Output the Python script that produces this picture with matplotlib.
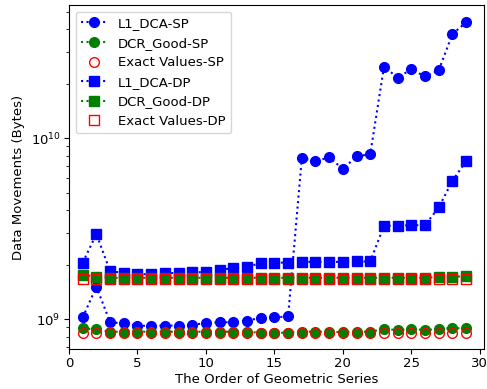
import numpy as np
import matplotlib
matplotlib.use('Agg')
import matplotlib.pyplot as plt

order = list(range(1, 30))

l1_sp = [1.02e9, 1.51e9, 0.96e9, 0.946e9, 0.918e9, 0.918e9, 0.92e9, 0.92e9, 0.93e9, 0.95e9,
         0.96e9, 0.96e9, 0.98e9, 1.016e9, 1.02e9, 1.035e9, 7.74e9, 7.46e9, 7.82e9, 6.76e9,
         7.92e9, 8.16e9, 2.48e10, 2.16e10, 2.40e10, 2.19e10, 2.37e10, 3.76e10, 4.36e10]
dcr_sp = [0.888e9, 0.877e9, 0.851e9, 0.851e9, 0.851e9, 0.851e9, 0.851e9, 0.851e9, 0.851e9, 0.851e9,
          0.851e9, 0.851e9, 0.851e9, 0.84e9, 0.84e9, 0.84e9, 0.851e9, 0.851e9, 0.851e9, 0.845e9,
          0.851e9, 0.851e9, 0.88e9, 0.87e9, 0.88e9, 0.87e9, 0.88e9, 0.89e9, 0.89e9]
exact_sp = [0.834e9] * 29
l1_dp = [2.05e9, 2.95e9, 1.84e9, 1.80e9, 1.77e9, 1.77e9, 1.79e9, 1.80e9, 1.81e9, 1.82e9,
         1.87e9, 1.91e9, 1.95e9, 2.03e9, 2.05e9, 2.05e9, 2.07e9, 2.07e9, 2.07e9, 2.07e9,
         2.08e9, 2.08e9, 3.28e9, 3.28e9, 3.30e9, 3.30e9, 4.14e9, 5.81e9, 7.46e9]
dcr_dp = [1.76e9, 1.71e9] + [1.69e9] * 24 + [1.71e9, 1.71e9, 1.73e9]
exact_dp = [1.67e9] * 29

plt.rcParams['font.size'] = 9.5

fig = plt.figure(figsize=(4.87, 3.89), dpi=100)
ax = fig.add_axes([0.1417, 0.1028, 0.852, 0.884])

ax.plot(order, l1_sp, 'b:o', lw=1.5, ms=7, label='L1_DCA-SP')
ax.plot(order, dcr_sp, 'g:o', lw=1.5, ms=7, label='DCR_Good-SP')
ax.plot(order, exact_sp, 'o', ls='none', mfc='none', mec='red', ms=7, label='Exact Values-SP')
ax.plot(order, l1_dp, 'b:s', lw=1.5, ms=7, label='L1_DCA-DP')
ax.plot(order, dcr_dp, 'g:s', lw=1.5, ms=7, label='DCR_Good-DP')
ax.plot(order, exact_dp, 's', ls='none', mfc='none', mec='red', ms=7, label='Exact Values-DP')

ax.set_yscale('log')
ax.set_xlim(0, 30.3)
ax.set_ylim(6.83e8, 5.43e10)
ax.set_xlabel('The Order of Geometric Series', labelpad=2)
ax.set_ylabel('Data Movements (Bytes)')
ax.tick_params(pad=2.5)
ax.legend(loc='upper left')

fig.savefig('out.png', dpi=100)
